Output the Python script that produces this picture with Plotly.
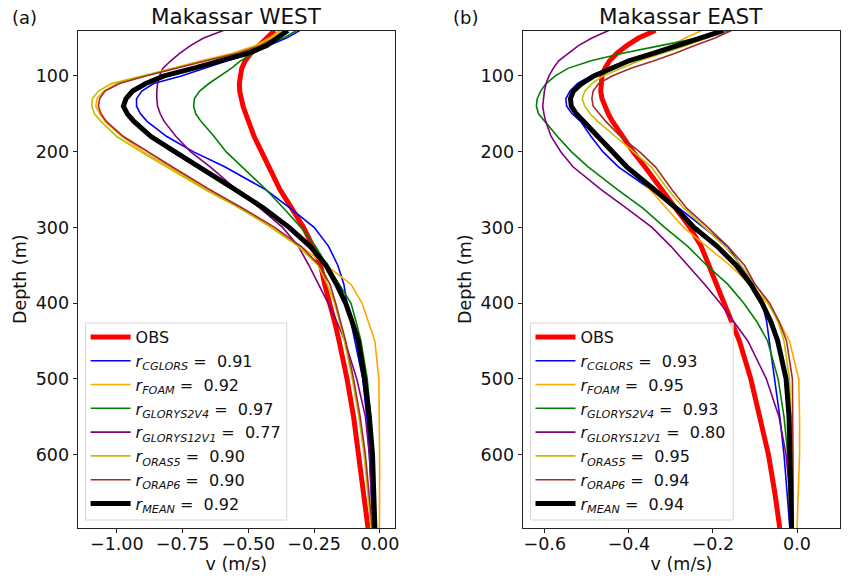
import plotly.graph_objects as go

# ---------------- data ----------------
depth = [40, 50, 60, 70, 80, 90, 100, 110, 120, 130, 140, 150, 160, 180, 200, 220,
         250, 275, 300, 325, 350, 375, 400, 425, 450, 500, 550, 600, 650, 697]

# Makassar WEST (panel a)
west_obs = [-0.40, -0.43, -0.455, -0.49, -0.512, -0.525, -0.53, -0.534, -0.533, -0.528, -0.52, -0.51,
            -0.50, -0.478, -0.45, -0.42, -0.38, -0.335, -0.29, -0.255, -0.225, -0.21, -0.19, -0.172,
            -0.155, -0.125, -0.10, -0.08, -0.063, -0.045]
west_cglors = [-0.305, -0.355, -0.425, -0.485, -0.58, -0.67, -0.755, -0.86, -0.905, -0.925, -0.925, -0.91,
               -0.885, -0.81, -0.71, -0.59, -0.435, -0.34, -0.25, -0.195, -0.16, -0.137, -0.125, -0.11,
               -0.095, -0.065, -0.05, -0.04, -0.033, -0.028]
west_foam = [-0.38, -0.42, -0.475, -0.56, -0.68, -0.79, -0.90, -1.00, -1.05, -1.075, -1.08, -1.065,
             -1.045, -0.98, -0.90, -0.80, -0.66, -0.53, -0.41, -0.30, -0.205, -0.11, -0.068, -0.042,
             -0.019, -0.004, -0.002, -0.001, -0.001, -0.002]
west_glorys2v4 = [-0.317, -0.367, -0.43, -0.48, -0.53, -0.565, -0.61, -0.65, -0.685, -0.705, -0.708, -0.70,
                  -0.68, -0.63, -0.585, -0.525, -0.433, -0.365, -0.30, -0.245, -0.20, -0.155, -0.11, -0.09,
                  -0.072, -0.048, -0.035, -0.026, -0.022, -0.019]
west_glorys12v1 = [-0.595, -0.67, -0.72, -0.76, -0.795, -0.825, -0.838, -0.845, -0.848, -0.848, -0.845, -0.835,
                   -0.82, -0.775, -0.72, -0.645, -0.545, -0.455, -0.37, -0.31, -0.27, -0.232, -0.197, -0.163,
                   -0.133, -0.088, -0.055, -0.04, -0.032, -0.025]
west_oras5 = [-0.37, -0.41, -0.465, -0.55, -0.67, -0.79, -0.91, -1.02, -1.07, -1.093, -1.095, -1.085,
              -1.06, -1.0, -0.91, -0.81, -0.665, -0.53, -0.415, -0.31, -0.235, -0.20, -0.172, -0.153,
              -0.135, -0.105, -0.08, -0.06, -0.046, -0.033]
west_orap6 = [-0.36, -0.40, -0.455, -0.54, -0.66, -0.78, -0.89, -0.99, -1.045, -1.065, -1.07, -1.06,
              -1.04, -0.975, -0.885, -0.79, -0.648, -0.52, -0.40, -0.30, -0.23, -0.19, -0.168, -0.15,
              -0.13, -0.10, -0.075, -0.055, -0.042, -0.029]
west_mean = [-0.35, -0.39, -0.43, -0.50, -0.60, -0.71, -0.82, -0.89, -0.94, -0.965, -0.975, -0.96,
             -0.935, -0.87, -0.78, -0.685, -0.55, -0.44, -0.345, -0.265, -0.205, -0.165, -0.13, -0.105,
             -0.082, -0.058, -0.04, -0.028, -0.022, -0.019]

# Makassar EAST (panel b)
east_obs = [-0.337, -0.377, -0.405, -0.428, -0.446, -0.457, -0.464, -0.467, -0.467, -0.464, -0.457, -0.449,
            -0.439, -0.415, -0.39, -0.362, -0.323, -0.289, -0.255, -0.228, -0.21, -0.19, -0.172, -0.155,
            -0.137, -0.11, -0.088, -0.068, -0.053, -0.041]
east_cglors = [-0.18, -0.23, -0.29, -0.345, -0.405, -0.45, -0.49, -0.522, -0.54, -0.55, -0.548, -0.535,
               -0.515, -0.49, -0.462, -0.425, -0.348, -0.28, -0.222, -0.165, -0.135, -0.105, -0.083, -0.072,
               -0.066, -0.054, -0.041, -0.031, -0.024, -0.017]
east_foam = [-0.227, -0.266, -0.30, -0.35, -0.405, -0.442, -0.483, -0.515, -0.533, -0.54, -0.538, -0.528,
             -0.512, -0.48, -0.442, -0.405, -0.35, -0.31, -0.27, -0.215, -0.16, -0.112, -0.07, -0.042,
             -0.018, 0.004, 0.006, 0.006, 0.003, 0.0]
east_glorys2v4 = [-0.16, -0.235, -0.325, -0.415, -0.49, -0.545, -0.575, -0.597, -0.61, -0.618, -0.62, -0.615,
                  -0.60, -0.57, -0.537, -0.497, -0.427, -0.366, -0.315, -0.26, -0.215, -0.165, -0.127, -0.095,
                  -0.07, -0.045, -0.031, -0.022, -0.017, -0.013]
east_glorys12v1 = [-0.448, -0.488, -0.52, -0.545, -0.567, -0.58, -0.59, -0.597, -0.601, -0.603, -0.605, -0.602,
                   -0.598, -0.585, -0.562, -0.533, -0.466, -0.405, -0.345, -0.30, -0.26, -0.22, -0.183, -0.15,
                   -0.117, -0.073, -0.043, -0.026, -0.018, -0.013]
east_oras5 = [-0.17, -0.215, -0.265, -0.32, -0.375, -0.418, -0.462, -0.488, -0.505, -0.511, -0.505, -0.492,
              -0.474, -0.432, -0.39, -0.347, -0.307, -0.269, -0.22, -0.172, -0.133, -0.10, -0.068, -0.045,
              -0.031, -0.018, -0.014, -0.011, -0.01, -0.009]
east_orap6 = [-0.156, -0.195, -0.245, -0.29, -0.34, -0.395, -0.44, -0.472, -0.485, -0.488, -0.485, -0.47,
              -0.455, -0.42, -0.375, -0.337, -0.298, -0.262, -0.212, -0.165, -0.125, -0.10, -0.065, -0.042,
              -0.025, -0.011, -0.01, -0.009, -0.009, -0.009]
east_mean = [-0.175, -0.227, -0.285, -0.34, -0.40, -0.442, -0.483, -0.512, -0.532, -0.539, -0.537, -0.525,
             -0.508, -0.476, -0.44, -0.405, -0.34, -0.287, -0.245, -0.19, -0.145, -0.11, -0.083, -0.062,
             -0.046, -0.026, -0.019, -0.016, -0.014, -0.013]

names = ["OBS", "CGLORS", "FOAM", "GLORYS2V4", "GLORYS12V1", "ORAS5", "ORAP6", "MEAN"]
r_west = [None, "0.91", "0.92", "0.97", "0.77", "0.90", "0.90", "0.92"]
r_east = [None, "0.93", "0.95", "0.93", "0.80", "0.95", "0.94", "0.94"]

west = [west_obs, west_cglors, west_foam, west_glorys2v4, west_glorys12v1, west_oras5, west_orap6, west_mean]
east = [east_obs, east_cglors, east_foam, east_glorys2v4, east_glorys12v1, east_oras5, east_orap6, east_mean]

colors = ["#ff0000", "#0000ff", "#ffa500", "#008000", "#800080", "#bfbf00", "#a52a2a", "#000000"]
widths = [5, 1.6, 1.6, 1.6, 1.6, 1.6, 1.6, 5]

west_xticks = [-1.0, -0.75, -0.5, -0.25, 0.0]
west_xtext = ["\u22121.00", "\u22120.75", "\u22120.50", "\u22120.25", "0.00"]
east_xticks = [-0.6, -0.4, -0.2, 0.0]
east_xtext = ["\u22120.6", "\u22120.4", "\u22120.2", "0.0"]
yticks = [100, 200, 300, 400, 500, 600]

FONT = "DejaVu Sans"
W, H = 849, 587


def label(name, r):
    if r is None:
        return name
    return "<i>r</i><sub><i>%s</i></sub> =\u00a0 %s" % (name, r)


fig = go.Figure()
for panel, (series, rs, xa, ya, lg) in enumerate([
        (west, r_west, "x", "y", "legend"),
        (east, r_east, "x2", "y2", "legend2")]):
    for i, vals in enumerate(series):
        fig.add_trace(go.Scatter(
            x=vals, y=depth, mode="lines", xaxis=xa, yaxis=ya, legend=lg,
            name=label(names[i], rs[i]),
            line=dict(color=colors[i], width=widths[i]),
            hoverinfo="skip"))

axis_common = dict(showline=True, mirror=True, linecolor="#222", linewidth=1,
                   ticks="outside", ticklen=4, tickcolor="#222", showgrid=False,
                   zeroline=False, tickfont=dict(family=FONT, size=17.5, color="#111"))
xaxis_extra = dict(ticklabelstandoff=-4)

px2x = lambda p: p / W
px2y = lambda p: (H - p) / H

legend_common = dict(xanchor="left", yanchor="bottom", itemwidth=40,
                     bgcolor="rgba(0,0,0,0)", borderwidth=0,
                     font=dict(family=FONT, size=16, color="#111"), tracegroupgap=0)

fig.update_layout(
    width=W, height=H, margin=dict(l=0, r=0, t=0, b=0),
    paper_bgcolor="white", plot_bgcolor="white",
    font=dict(family=FONT, color="#111"),
    xaxis=dict(domain=[px2x(78), px2x(397)], range=[-1.149, 0.058], anchor="y",
               tickvals=west_xticks, ticktext=west_xtext,
               title=dict(text="v (m/s)", font=dict(size=17.5), standoff=1),
               **axis_common, **xaxis_extra),
    yaxis=dict(domain=[px2y(528), px2y(30.5)], range=[697, 40], anchor="x",
               tickvals=yticks, ticktext=[str(v) for v in yticks],
               title=dict(text="Depth (m)", font=dict(size=17.5), standoff=4), **axis_common),
    xaxis2=dict(domain=[px2x(525), px2x(844.3)], range=[-0.653, 0.103], anchor="y2",
                tickvals=east_xticks, ticktext=east_xtext,
                title=dict(text="v (m/s)", font=dict(size=17.5), standoff=1),
                **axis_common, **xaxis_extra),
    yaxis2=dict(domain=[px2y(528), px2y(30.5)], range=[697, 40], anchor="x2",
                tickvals=yticks, ticktext=[str(v) for v in yticks],
                title=dict(text="Depth (m)", font=dict(size=17.5), standoff=4), **axis_common),
    legend=dict(x=px2x(86), y=px2y(521), **legend_common),
    legend2=dict(x=px2x(533), y=px2y(521), **legend_common),
    showlegend=True,
    shapes=[
        dict(type="rect", xref="paper", yref="paper", layer="above",
             x0=px2x(86), x1=px2x(288), y0=px2y(520), y1=px2y(323),
             fillcolor="rgba(255,255,255,0.8)", line=dict(color="#d6d6d6", width=1)),
        dict(type="rect", xref="paper", yref="paper", layer="above",
             x0=px2x(533), x1=px2x(736.7), y0=px2y(520), y1=px2y(323),
             fillcolor="rgba(255,255,255,0.8)", line=dict(color="#d6d6d6", width=1)),
    ],
    annotations=[
        dict(text="(a)", x=px2x(24.5), y=px2y(17), xref="paper", yref="paper",
             xanchor="center", yanchor="middle",
             showarrow=False, font=dict(family=FONT, size=18, color="#111")),
        dict(text="Makassar WEST", x=px2x(237.5), y=px2y(16), xref="paper", yref="paper",
             xanchor="center", yanchor="middle",
             showarrow=False, font=dict(family=FONT, size=21.5, color="#111")),
        dict(text="(b)", x=px2x(467.5), y=px2y(17), xref="paper", yref="paper",
             xanchor="center", yanchor="middle",
             showarrow=False, font=dict(family=FONT, size=18, color="#111")),
        dict(text="Makassar EAST", x=px2x(684.7), y=px2y(16), xref="paper", yref="paper",
             xanchor="center", yanchor="middle",
             showarrow=False, font=dict(family=FONT, size=21.5, color="#111")),
    ],
)

fig.write_html("out.html")
